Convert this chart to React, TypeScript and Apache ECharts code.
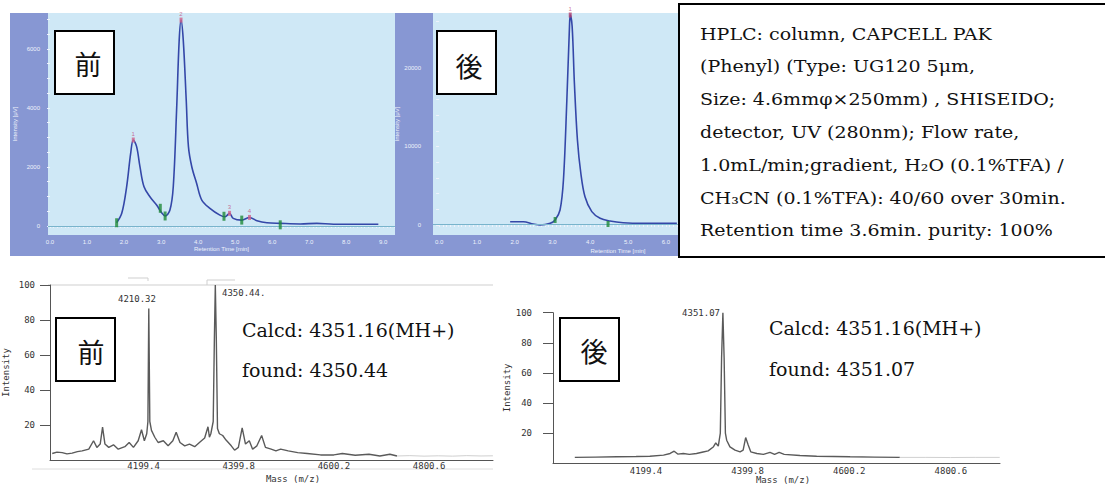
import React, { useEffect, useRef } from 'react';
import * as echarts from 'echarts';

// ---------- HPLC (before purification) ----------
const hplcBeforeTime = [1.80, 1.94, 2.07, 2.18, 2.25, 2.34, 2.43, 2.54, 2.70, 2.88, 3.02, 3.11, 3.24, 3.33, 3.42, 3.49, 3.54, 3.60, 3.68, 3.74, 3.83, 3.96, 4.10, 4.32, 4.59, 4.73, 4.85, 4.95, 5.18, 5.39, 5.59, 5.86, 6.22, 6.76, 7.21, 7.66, 8.87];
const hplcBeforeIntensity = [110, 440, 1330, 2470, 2915, 2690, 2010, 1330, 990, 710, 440, 340, 540, 1330, 3930, 6300, 6980, 6300, 4270, 2690, 2010, 1450, 880, 600, 370, 315, 430, 260, 200, 290, 180, 110, 90, 70, 90, 60, 60];
const hplcBeforeValleyTime = [1.80, 2.98, 3.11, 4.70, 5.18, 6.22];
const hplcBeforeValleyIntensity = [110, 600, 340, 330, 200, 40];
const hplcBeforePeakTime = [2.25, 3.54, 4.85, 5.39];
const hplcBeforePeakIntensity = [2915, 6980, 430, 290];
const hplcBeforePeakNames = ['1', '2', '3', '4'];
const hplcBeforeXLabels = [0, 1, 2, 3, 4, 5, 6, 7, 8, 9];
const hplcBeforeYLabels = [0, 2000, 4000, 6000];

// ---------- HPLC (after purification) ----------
const hplcAfterTime = [1.88, 2.23, 2.49, 2.67, 2.94, 3.07, 3.20, 3.29, 3.38, 3.45, 3.47, 3.52, 3.58, 3.66, 3.75, 3.86, 4.04, 4.26, 4.52, 4.87, 5.40, 6.29];
const hplcAfterIntensity = [420, 420, 130, 0, 210, 640, 1910, 5730, 15900, 25300, 26750, 25300, 18050, 10830, 6590, 3600, 1700, 850, 510, 290, 210, 210];
const hplcAfterValleyTime = [3.07, 4.47];
const hplcAfterValleyIntensity = [640, 130];
const hplcAfterPeakTime = [3.47];
const hplcAfterPeakIntensity = [26750];
const hplcAfterXLabels = [0, 1, 2, 3, 4, 5, 6];
const hplcAfterYLabels = [0, 10000, 20000];

// ---------- MS (before) ----------
const msBeforeMass = [4007, 4017, 4028, 4038, 4049, 4060, 4070, 4084, 4094, 4101, 4108, 4113, 4118, 4126, 4136, 4146, 4160, 4169, 4178, 4188, 4195, 4201, 4206, 4208.5, 4210.32, 4212.5, 4216, 4223, 4230, 4241, 4251, 4261, 4268, 4276, 4286, 4296, 4307, 4317, 4328, 4335, 4338, 4341, 4346, 4348.5, 4350.44, 4352.5, 4355, 4359, 4366, 4373, 4384, 4391, 4399, 4407, 4414, 4422, 4429, 4438, 4448, 4456, 4468, 4478, 4488, 4504, 4524, 4544, 4572, 4600, 4618, 4645, 4674, 4697, 4718, 4733];
const msBeforeIntensity = [3.7, 4.5, 4.2, 3.5, 3.9, 4.8, 5.2, 6.2, 11, 7.2, 9.1, 18.8, 9.1, 7.2, 8.7, 6.2, 7.6, 10, 7.2, 11, 17.3, 11, 15, 22, 86.6, 22, 16.9, 13, 10, 11, 8.1, 11, 15.9, 10, 8.1, 9.1, 7.6, 10, 12.6, 19, 13, 15, 22, 70, 100, 70, 18, 15, 14, 11.4, 8.1, 5.6, 7.2, 18.4, 9.1, 11, 6.2, 8.1, 14, 7.2, 6.2, 5.2, 6.2, 5.2, 4.2, 3.7, 2.9, 2.9, 3.7, 2.7, 3.3, 2.3, 3.3, 2.3];
const msBeforeTailMass = [4733, 4760, 4790, 4820, 4850, 4880, 4910, 4935];
const msBeforeTailIntensity = [2.3, 2.5, 2.2, 2.4, 2.2, 2.5, 2.3, 2.4];

// ---------- MS (after) ----------
const msAfterMass = [4059, 4100, 4142, 4180, 4207, 4234, 4247, 4255, 4262, 4273, 4285, 4299, 4312, 4322, 4332, 4337, 4342, 4346, 4348.5, 4351.07, 4353.5, 4356, 4358.5, 4365, 4375, 4385, 4391, 4396, 4401, 4406, 4418, 4431, 4444, 4453, 4462, 4472, 4503, 4536, 4570, 4602, 4650, 4700];
const msAfterIntensity = [3.8, 4.0, 4.2, 4.4, 4.6, 5.3, 6.4, 7.9, 6.0, 6.4, 5.8, 6.4, 7.4, 8.1, 10.7, 13.4, 11.3, 20, 70, 100, 70, 20, 15.2, 10.8, 8.6, 7.5, 8.6, 17, 12, 7.5, 6.4, 5.8, 7.1, 5.8, 7.1, 5.8, 5.1, 4.6, 4.4, 4.2, 4.0, 3.8];
const msAfterTailMass = [4700, 4750, 4800, 4850, 4897];
const msAfterTailIntensity = [3.8, 3.8, 3.7, 3.8, 3.8];

const msXLabels = [4199.4, 4399.8, 4600.2, 4800.6];
const msYLabels = [20, 40, 60, 80, 100];

const hplcText = [
  'HPLC: column, CAPCELL PAK',
  '(Phenyl) (Type: UG120 5μm,',
  'Size: 4.6mmφ×250mm) , SHISEIDO;',
  'detector, UV (280nm); Flow rate,',
  '1.0mL/min;gradient, H₂O (0.1%TFA) /',
  'CH₃CN (0.1%TFA): 40/60 over 30min.',
  'Retention time 3.6min. purity: 100%',
];

const zip = (a: number[], b: number[]) => a.map((v, i) => [v, b[i]]);
const steps = (from: number, to: number, step: number) => {
  const out: number[] = [];
  for (let v = from; v <= to + 1e-9; v += step) out.push(Math.round(v * 1000) / 1000);
  return out;
};

const DARK = '#8797d3';
const LIGHT = '#cfe8f6';
const CURVE = '#3447a8';
const TEAL = '#79b4cc';
const TICKCOL = '#eef2fb';
const MONO = '"DejaVu Sans Mono", monospace';
const SERIF = '"DejaVu Serif", serif';
const CJK = '"Noto Sans CJK JP", sans-serif';

function hplcX(grid: number, min: number, max: number, labels: number[], name: string, showName: boolean) {
  return {
    type: 'value', gridIndex: grid, min, max, z: 3,
    axisLine: { show: false },
    splitLine: { show: false },
    axisTick: { show: true, length: 2, lineStyle: { color: TICKCOL, width: 1 }, customValues: steps(0, Math.floor(max * 10) / 10, 0.1) },
    axisLabel: { show: true, customValues: labels, formatter: (v: number) => v.toFixed(1), color: TICKCOL, fontSize: 6, margin: 4, fontFamily: 'sans-serif' },
    name: showName ? name : '', nameLocation: 'middle', nameGap: 11,
    nameTextStyle: { color: TICKCOL, fontSize: 6, fontFamily: 'sans-serif' },
  };
}
function hplcY(grid: number, min: number, max: number, labels: number[], tickStep: number, margin: number, gap: number) {
  return {
    type: 'value', gridIndex: grid, min, max, z: 3,
    axisLine: { show: false },
    splitLine: { show: false },
    axisTick: { show: true, length: 3, lineStyle: { color: TICKCOL, width: 1 }, customValues: steps(0, max, tickStep) },
    axisLabel: { show: true, customValues: labels, formatter: (v: number) => String(Math.round(v)), color: TICKCOL, fontSize: 6, margin, fontFamily: 'sans-serif' },
    name: 'Intensity [μV]', nameLocation: 'middle', nameRotate: 90, nameGap: gap,
    nameTextStyle: { color: TICKCOL, fontSize: 6, fontFamily: 'sans-serif' },
  };
}
function msX(grid: number, min: number, max: number, margin: number) {
  return {
    type: 'value', gridIndex: grid, min, max, z: 3,
    axisLine: { show: true, onZero: false, lineStyle: { color: '#555', width: 1 } },
    splitLine: { show: false },
    axisTick: { show: false },
    axisLabel: { show: true, customValues: msXLabels, formatter: (v: number) => v.toFixed(1), color: '#333', fontSize: 9, margin, fontFamily: MONO },
  };
}
function msY(grid: number, margin: number, gap: number) {
  return {
    type: 'value', gridIndex: grid, min: 0, max: 100, z: 3,
    axisLine: { show: true, lineStyle: { color: '#555', width: 1 } },
    splitLine: { show: false },
    axisTick: { show: true, length: 10, customValues: msYLabels, lineStyle: { color: '#555' } },
    axisLabel: { show: true, customValues: msYLabels, formatter: (v: number) => String(Math.round(v)), color: '#333', fontSize: 9, margin, fontFamily: MONO },
    name: 'Intensity', nameLocation: 'middle', nameRotate: 90, nameGap: gap,
    nameTextStyle: { color: '#333', fontSize: 9, fontFamily: MONO },
  };
}

function labelBox(x: number, y: number, w: number, h: number, glyph: string, gx: number, gy: number) {
  return [
    { type: 'rect', z: 10, shape: { x, y, width: w, height: h }, style: { fill: '#fff', stroke: '#000', lineWidth: 2 } },
    { type: 'text', z: 11, x: gx, y: gy, style: { text: glyph, font: `27px ${CJK}`, fill: '#111', align: 'center', verticalAlign: 'middle' } },
  ];
}

export default function App() {
  const ref = useRef<HTMLDivElement>(null);
  useEffect(() => {
    const chart = echarts.init(ref.current!, null, { renderer: 'svg' });
    const graphics: any[] = [
      { type: 'rect', z: 0, shape: { x: 10, y: 13, width: 385, height: 243 }, style: { fill: DARK } },
      { type: 'rect', z: 0, shape: { x: 395, y: 13, width: 283, height: 243 }, style: { fill: DARK } },
      { type: 'rect', z: 1, shape: { x: 48, y: 13, width: 347, height: 222 }, style: { fill: LIGHT } },
      { type: 'rect', z: 1, shape: { x: 433, y: 13, width: 245, height: 222 }, style: { fill: LIGHT } },
      { type: 'text', z: 3, x: 618, y: 251, style: { text: 'Retention Time [min]', font: '6px sans-serif', fill: TICKCOL, align: 'center', verticalAlign: 'middle' } },
      // HPLC condition box
      { type: 'rect', z: 10, shape: { x: 679, y: 4, width: 440, height: 253 }, style: { fill: '#fff', stroke: '#000', lineWidth: 2 } },
      ...hplcText.map((t, i) => ({ type: 'text', z: 11, x: 700, y: 33.5 + i * 32.8, scaleX: 1.12, style: { text: t, font: `17px ${SERIF}`, fill: '#111', verticalAlign: 'middle' } })),
      // MS frame marks
      { type: 'line', z: 1, shape: { x1: 48, y1: 285, x2: 493, y2: 285 }, style: { stroke: '#cfcfcf', lineWidth: 1 } },
      { type: 'line', z: 1, shape: { x1: 32, y1: 469, x2: 493, y2: 469 }, style: { stroke: '#dedede', lineWidth: 1 } },
      { type: 'polyline', z: 1, shape: { points: [[128, 278], [148, 278], [148, 281]] }, style: { stroke: '#cfcfcf', lineWidth: 1, fill: 'none' } },
      { type: 'polyline', z: 1, shape: { points: [[207, 285], [207, 280], [235, 280]] }, style: { stroke: '#cfcfcf', lineWidth: 1, fill: 'none' } },
      // MS peak labels
      { type: 'text', z: 6, x: 137, y: 299, style: { text: '4210.32', font: `9px ${MONO}`, fill: '#333', align: 'center', verticalAlign: 'middle' } },
      { type: 'text', z: 6, x: 222, y: 293, style: { text: '4350.44.', font: `9px ${MONO}`, fill: '#333', align: 'left', verticalAlign: 'middle' } },
      { type: 'text', z: 6, x: 720, y: 313, style: { text: '4351.07', font: `9px ${MONO}`, fill: '#333', align: 'right', verticalAlign: 'middle' } },
      { type: 'text', z: 6, x: 293, y: 479, style: { text: 'Mass (m/z)', font: `9px ${MONO}`, fill: '#333', align: 'center', verticalAlign: 'middle' } },
      { type: 'text', z: 6, x: 783, y: 480, style: { text: 'Mass (m/z)', font: `9px ${MONO}`, fill: '#333', align: 'center', verticalAlign: 'middle' } },
      // Calcd / found
      { type: 'text', z: 6, x: 242, y: 330, style: { text: 'Calcd: 4351.16(MH+)', font: `19px ${SERIF}`, fill: '#111', verticalAlign: 'middle' } },
      { type: 'text', z: 6, x: 242, y: 370, style: { text: 'found: 4350.44', font: `19px ${SERIF}`, fill: '#111', verticalAlign: 'middle' } },
      { type: 'text', z: 6, x: 769, y: 328, style: { text: 'Calcd: 4351.16(MH+)', font: `19px ${SERIF}`, fill: '#111', verticalAlign: 'middle' } },
      { type: 'text', z: 6, x: 769, y: 369, style: { text: 'found: 4351.07', font: `19px ${SERIF}`, fill: '#111', verticalAlign: 'middle' } },
      ...labelBox(55, 31, 59, 63, '前', 88, 63),
      ...labelBox(437, 31, 59, 63, '後', 469, 65),
      ...labelBox(56, 318, 59, 63, '前', 91, 351),
      ...labelBox(560, 318, 59, 63, '後', 594, 350),
    ];

    const option: any = {
      animation: false,
      backgroundColor: '#ffffff',
      grid: [
        { left: 48, top: 13, width: 347, height: 222, show: false },
        { left: 433, top: 13, width: 245, height: 222, show: false },
        { left: 48, top: 285, width: 445, height: 175, show: false },
        { left: 553, top: 312.7, width: 447, height: 150.4, show: false },
      ],
      xAxis: [
        hplcX(0, -0.054, 9.32, hplcBeforeXLabels, 'Retention Time [min]', true),
        hplcX(1, -0.16, 6.32, hplcAfterXLabels, 'Retention Time [min]', false),
        msX(2, 4002.3, 4935.2, 1),
        msX(3, 4016, 4897.6, 3),
      ],
      yAxis: [
        hplcY(0, -305, 7220, hplcBeforeYLabels, 500, 8, 30),
        hplcY(1, -1274, 27006, hplcAfterYLabels, 2000, 12, 32),
        msY(2, 15, 40),
        msY(3, 21, 36),
      ],
      graphic: { elements: graphics },
      series: [
        {
          type: 'line', xAxisIndex: 0, yAxisIndex: 0, z: 4, data: zip(hplcBeforeTime, hplcBeforeIntensity),
          smooth: 0.35, showSymbol: false, symbol: 'none', lineStyle: { color: CURVE, width: 1.6 },
          markLine: { silent: true, symbol: 'none', label: { show: false }, lineStyle: { color: TEAL, width: 1, type: 'solid' }, data: [{ yAxis: 0 }] },
        },
        {
          type: 'scatter', xAxisIndex: 0, yAxisIndex: 0, z: 5, data: zip(hplcBeforeValleyTime, hplcBeforeValleyIntensity),
          symbol: 'rect', symbolSize: [3, 9], itemStyle: { color: '#1f8a3a' },
        },
        {
          type: 'scatter', xAxisIndex: 0, yAxisIndex: 0, z: 5, data: zip(hplcBeforePeakTime, hplcBeforePeakIntensity).map((d, i) => ({ value: d, name: hplcBeforePeakNames[i] })),
          symbol: 'rect', symbolSize: [3, 5], itemStyle: { color: '#d0608a' },
          label: { show: true, formatter: '{b}', position: 'top', distance: 1, fontSize: 6, color: '#c05080' },
        },
        {
          type: 'line', xAxisIndex: 1, yAxisIndex: 1, z: 4, data: zip(hplcAfterTime, hplcAfterIntensity),
          smooth: 0.35, showSymbol: false, symbol: 'none', lineStyle: { color: CURVE, width: 1.6 },
          markLine: { silent: true, symbol: 'none', label: { show: false }, lineStyle: { color: TEAL, width: 1, type: 'solid' }, data: [{ yAxis: 130 }] },
        },
        {
          type: 'scatter', xAxisIndex: 1, yAxisIndex: 1, z: 5, data: zip(hplcAfterValleyTime, hplcAfterValleyIntensity),
          symbol: 'rect', symbolSize: [3, 6], itemStyle: { color: '#1f8a3a' },
        },
        {
          type: 'scatter', xAxisIndex: 1, yAxisIndex: 1, z: 5, data: zip(hplcAfterPeakTime, hplcAfterPeakIntensity).map((d) => ({ value: d, name: '1' })),
          symbol: 'rect', symbolSize: [3, 5], itemStyle: { color: '#b04070' },
          label: { show: true, formatter: '{b}', position: 'top', distance: 1, fontSize: 6, color: '#c05080' },
        },
        {
          type: 'line', xAxisIndex: 2, yAxisIndex: 2, z: 4, data: zip(msBeforeMass, msBeforeIntensity),
          showSymbol: false, symbol: 'none', lineStyle: { color: '#5a5a5a', width: 1.4 },
        },
        {
          type: 'line', xAxisIndex: 2, yAxisIndex: 2, z: 4, data: zip(msBeforeTailMass, msBeforeTailIntensity),
          showSymbol: false, symbol: 'none', lineStyle: { color: '#d0d0d0', width: 1 },
        },
        {
          type: 'line', xAxisIndex: 3, yAxisIndex: 3, z: 4, data: zip(msAfterMass, msAfterIntensity),
          showSymbol: false, symbol: 'none', lineStyle: { color: '#5a5a5a', width: 1.4 },
        },
        {
          type: 'line', xAxisIndex: 3, yAxisIndex: 3, z: 4, data: zip(msAfterTailMass, msAfterTailIntensity),
          showSymbol: false, symbol: 'none', lineStyle: { color: '#d0d0d0', width: 1 },
        },
      ],
    };
    chart.setOption(option);
    return () => chart.dispose();
  }, []);
  return <div ref={ref} style={{ position: 'absolute', left: 0, top: 0, width: 1105, height: 484 }} />;
}
